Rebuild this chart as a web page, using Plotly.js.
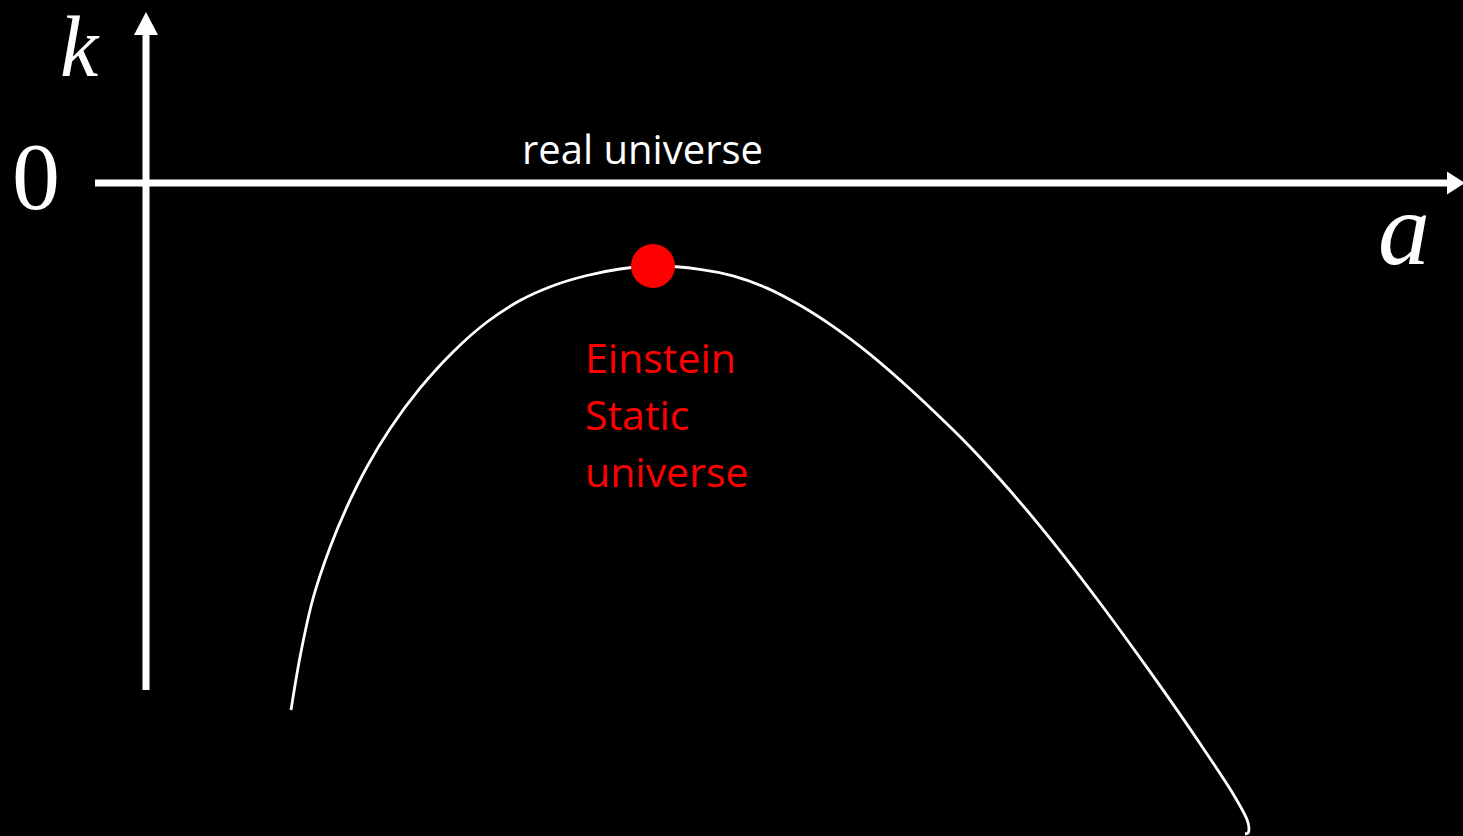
<!DOCTYPE html>
<html>
<head>
<meta charset="utf-8">
<script src="https://cdn.plot.ly/plotly-3.0.1.min.js"></script>
<style>
html,body{margin:0;padding:0;background:#000;}
#chart{width:1463px;height:836px;}
</style>
</head>
<body>
<div id="chart"></div>
<script>
// Curve k(a)
const curveA = [1.45,1.54,1.67,1.84,2.01,2.21,2.44,2.74,3.07,3.41,3.74,4.07,4.41,4.74,5.07,5.54,5.87,6.21,6.54,6.87,7.21,7.54,7.87,8.21,8.54,8.87,9.21,9.54,9.87,10.21,10.54,10.87,11.01,11.03,11.02,10.99];
const curveK = [-5.27,-4.74,-4.155,-3.645,-3.237,-2.837,-2.457,-2.052,-1.689,-1.39,-1.175,-1.027,-0.925,-0.86,-0.83,-0.863,-0.929,-1.051,-1.223,-1.434,-1.689,-1.97,-2.274,-2.607,-2.963,-3.346,-3.768,-4.20,-4.65,-5.126,-5.605,-6.107,-6.366,-6.46,-6.50,-6.51];
// Einstein static universe point
const staticA = [5.07];
const staticK = [-0.83];
// Axis extents
const aAxisFrom = -0.51, aAxisTo = 13.01, aAxisTip = 13.19;
const kAxisFrom = -5.07, kAxisTo = 1.48, kAxisTip = 1.71;
// Labels
const labelK = 'k', labelA = 'a', labelZero = '0';
const labelReal = 'real universe';
const labelStatic = ['Einstein','Static','universe'];

const white = '#ffffff', red = '#ff0000';

const traces = [
  {x: curveA, y: curveK, mode: 'lines', line: {color: white, width: 2.8, shape: 'spline', smoothing: 0.8}, hoverinfo: 'skip'},
  {x: staticA, y: staticK, mode: 'markers', marker: {color: red, size: 44, line: {width: 0}}, hoverinfo: 'skip'}
];

const shapes = [
  {type: 'line', x0: aAxisFrom, x1: aAxisTo, y0: 0, y1: 0, line: {color: white, width: 7}},
  {type: 'path', path: `M ${aAxisTo},0.115 L ${aAxisTip},0 L ${aAxisTo},-0.115 Z`, fillcolor: white, line: {color: white, width: 0}},
  {type: 'line', x0: 0, x1: 0, y0: kAxisFrom, y1: kAxisTo, line: {color: white, width: 7}},
  {type: 'path', path: `M -0.12,${kAxisTo} L 0,${kAxisTip} L 0.12,${kAxisTo} Z`, fillcolor: white, line: {color: white, width: 0}}
];

const serif = 'Liberation Serif, DejaVu Serif, serif';
const sans = 'Open Sans, Noto Sans, sans-serif';
const annotations = [
  {x: -0.66, y: 1.36, text: '<i>' + labelK + '</i>', showarrow: false, xanchor: 'center', yanchor: 'middle', font: {family: serif, size: 86, color: white}},
  {x: -1.10, y: 0.07, text: labelZero, showarrow: false, xanchor: 'center', yanchor: 'middle', font: {family: serif, size: 96, color: white}},
  {x: 12.58, y: -0.45, text: '<i>' + labelA + '</i>', showarrow: false, xanchor: 'center', yanchor: 'middle', font: {family: serif, size: 104, color: white}},
  {x: 4.96, y: 0.35, text: labelReal, showarrow: false, xanchor: 'center', yanchor: 'middle', font: {family: sans, size: 40, color: white}},
  {x: 4.37, y: -1.74, text: labelStatic[0], showarrow: false, xanchor: 'left', yanchor: 'middle', font: {family: sans, size: 41, color: red}},
  {x: 4.37, y: -2.31, text: labelStatic[1], showarrow: false, xanchor: 'left', yanchor: 'middle', font: {family: sans, size: 41, color: red}},
  {x: 4.37, y: -2.88, text: labelStatic[2], showarrow: false, xanchor: 'left', yanchor: 'middle', font: {family: sans, size: 41, color: red}}
];

const layout = {
  width: 1463, height: 836,
  margin: {l: 0, r: 0, t: 0, b: 0, pad: 0},
  paper_bgcolor: '#000000', plot_bgcolor: '#000000',
  showlegend: false,
  xaxis: {range: [-1.46, 13.17], visible: false, fixedrange: true},
  yaxis: {range: [-6.53, 1.83], visible: false, fixedrange: true},
  shapes: shapes,
  annotations: annotations
};

Plotly.newPlot('chart', traces, layout, {displayModeBar: false, staticPlot: true});
</script>
</body>
</html>
